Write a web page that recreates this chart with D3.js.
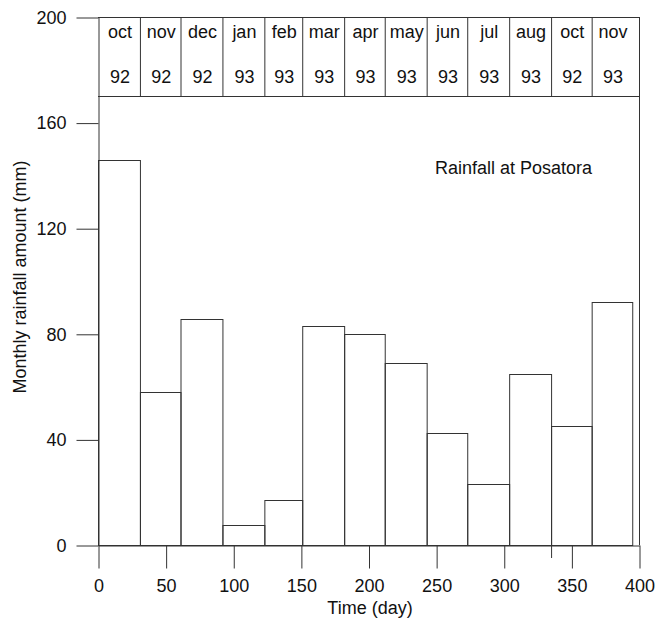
<!DOCTYPE html>
<html>
<head>
<meta charset="utf-8">
<script src="https://cdn.jsdelivr.net/npm/d3@7"></script>
<style>
  html, body { margin: 0; padding: 0; background: #fff; }
  svg { display: block; font-family: Arial, "Liberation Sans", Helvetica, sans-serif; }
</style>
</head>
<body>
<svg id="chart" width="655" height="620"></svg>
<script>
// Monthly rainfall at Posatora, Oct 1992 – Nov 1993
const monthLabels = ["oct", "nov", "dec", "jan", "feb", "mar", "apr", "may", "jun", "jul", "aug", "oct", "nov"];
const yearLabels  = ["92", "92", "92", "93", "93", "93", "93", "93", "93", "93", "93", "92", "93"];
// day on which each month starts / ends (boundaries, length = months + 1)
const dayEdges    = [0, 31, 61, 92, 123, 151, 182, 212, 243, 273, 304, 335, 365, 395];
const rainfallMm  = [146, 58, 85.5, 7.5, 17, 83, 80, 69, 42.3, 23, 64.8, 45, 92];
const xTicks = [0, 50, 100, 150, 200, 250, 300, 350, 400];
const yTicks = [0, 40, 80, 120, 160, 200];
const headerFloor = 170;   // header row occupies 170–200 on the value scale

const svg = d3.select("#chart");
const ink = "#333";

const x = d3.scaleLinear().domain([0, 400]).range([98, 639]);
const y = d3.scaleLinear().domain([0, 200]).range([545, 17]);

const months = monthLabels.map((m, i) => ({
  month: m, year: yearLabels[i], d0: dayEdges[i], d1: dayEdges[i + 1], v: rainfallMm[i]
}));

// bars (outlined, no fill)
svg.append("g").selectAll("rect").data(months).join("rect")
  .attr("x", d => x(d.d0) + 0.5)
  .attr("y", d => Math.round(y(d.v)) + 0.5)
  .attr("width", d => x(d.d1) - x(d.d0))
  .attr("height", d => Math.round(y(0)) - Math.round(y(d.v)))
  .attr("fill", "none").attr("stroke", ink).attr("stroke-width", 1);

// aug/oct boundary runs a little below the axis
svg.append("line")
  .attr("x1", x(dayEdges[11]) + 0.5).attr("x2", x(dayEdges[11]) + 0.5)
  .attr("y1", y(0)).attr("y2", y(0) + 13)
  .attr("stroke", ink);

// header row with month / year cells
const header = svg.append("g");
header.append("line")
  .attr("x1", x(0)).attr("x2", x(400))
  .attr("y1", Math.round(y(headerFloor)) + 0.5).attr("y2", Math.round(y(headerFloor)) + 0.5)
  .attr("stroke", ink);
header.selectAll("line.div").data(dayEdges.slice(1, -1)).join("line")
  .attr("class", "div")
  .attr("x1", d => x(d) + 0.5).attr("x2", d => x(d) + 0.5)
  .attr("y1", y(200)).attr("y2", y(headerFloor))
  .attr("stroke", ink);
header.selectAll("text.m").data(months).join("text")
  .attr("class", "m")
  .attr("x", d => (x(d.d0) + x(d.d1)) / 2 + 1)
  .attr("y", 38)
  .attr("text-anchor", "middle").attr("font-size", 18).attr("fill", "#111")
  .text(d => d.month);
header.selectAll("text.yr").data(months).join("text")
  .attr("class", "yr")
  .attr("x", d => (x(d.d0) + x(d.d1)) / 2 + 1)
  .attr("y", 83)
  .attr("text-anchor", "middle").attr("font-size", 18).attr("fill", "#111")
  .text(d => d.year);

// top and right frame
svg.append("line").attr("x1", x(0)).attr("x2", x(400))
  .attr("y1", y(200) + 0.5).attr("y2", y(200) + 0.5).attr("stroke", ink);
svg.append("line").attr("x1", x(400) + 0.5).attr("x2", x(400) + 0.5)
  .attr("y1", y(200)).attr("y2", y(0)).attr("stroke", ink);

// x axis
const xAxis = svg.append("g")
  .attr("transform", `translate(0.5,${Math.round(y(0)) + 0.5})`)
  .call(d3.axisBottom(x).tickValues(xTicks).tickSize(23).tickSizeOuter(0).tickPadding(11));
xAxis.select(".domain").attr("stroke", ink);
xAxis.selectAll(".tick line").attr("stroke", ink);
xAxis.selectAll("text").attr("font-size", 18).attr("fill", "#111")
  .attr("font-family", "Arial, 'Liberation Sans', sans-serif");

// y axis
const yAxis = svg.append("g")
  .attr("transform", `translate(${x(0) + 0.5},0.5)`)
  .call(d3.axisLeft(y).tickValues(yTicks).tickSize(22).tickSizeOuter(0).tickPadding(10));
yAxis.select(".domain").attr("stroke", ink);
yAxis.selectAll(".tick line").attr("stroke", ink);
yAxis.selectAll("text").attr("font-size", 18).attr("fill", "#111")
  .attr("font-family", "Arial, 'Liberation Sans', sans-serif");

// annotation and axis titles
svg.append("text").attr("x", 435).attr("y", 174)
  .attr("font-size", 18).attr("fill", "#111").text("Rainfall at Posatora");
svg.append("text").attr("x", 370).attr("y", 614)
  .attr("text-anchor", "middle").attr("font-size", 18).attr("fill", "#111").text("Time (day)");
svg.append("text")
  .attr("transform", "translate(26,277) rotate(-90)")
  .attr("text-anchor", "middle").attr("font-size", 18).attr("fill", "#111")
  .text("Monthly rainfall amount (mm)");
</script>
</body>
</html>
